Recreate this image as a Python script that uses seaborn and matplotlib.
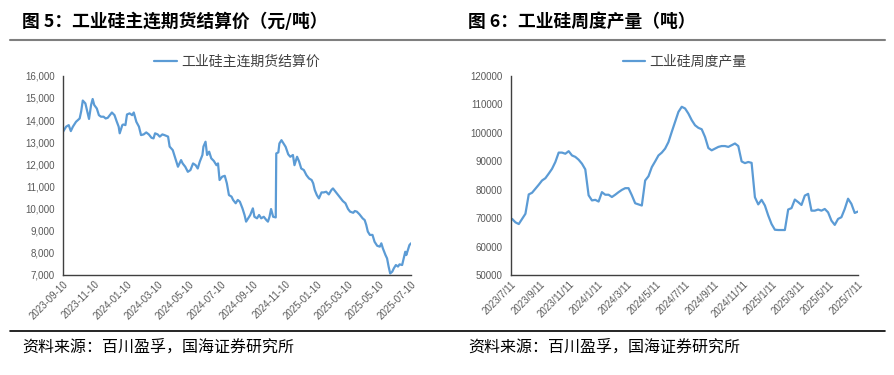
import pandas as pd
import matplotlib.pyplot as plt
import matplotlib.ticker as mticker
from matplotlib.lines import Line2D
import seaborn as sns

# 图5 工业硅主连期货结算价 (元/吨)
price_dates = [
    '2023-09-10', '2023-09-16', '2023-09-21', '2023-09-25', '2023-09-29', '2023-10-05',
    '2023-10-12', '2023-10-15', '2023-10-18', '2023-10-23', '2023-10-26', '2023-10-30',
    '2023-11-03', '2023-11-06', '2023-11-09', '2023-11-14', '2023-11-18', '2023-11-22',
    '2023-11-27', '2023-12-01', '2023-12-05', '2023-12-10', '2023-12-13', '2023-12-18',
    '2023-12-22', '2023-12-26', '2023-12-28', '2024-01-02', '2024-01-04', '2024-01-08',
    '2024-01-11', '2024-01-16', '2024-01-21', '2024-01-24', '2024-01-29', '2024-02-03',
    '2024-02-07', '2024-02-12', '2024-02-17', '2024-02-22', '2024-02-27', '2024-03-02',
    '2024-03-05', '2024-03-10', '2024-03-14', '2024-03-19', '2024-03-23', '2024-03-30',
    '2024-04-02', '2024-04-08', '2024-04-13', '2024-04-18', '2024-04-21', '2024-04-24',
    '2024-04-27', '2024-05-02', '2024-05-07', '2024-05-12', '2024-05-17', '2024-05-22',
    '2024-05-26', '2024-05-30', '2024-06-04', '2024-06-06', '2024-06-10', '2024-06-13',
    '2024-06-17', '2024-06-21', '2024-06-26', '2024-07-01', '2024-07-04', '2024-07-07',
    '2024-07-12', '2024-07-17', '2024-07-21', '2024-07-25', '2024-07-30', '2024-08-02',
    '2024-08-07', '2024-08-11', '2024-08-15', '2024-08-20', '2024-08-24', '2024-08-27',
    '2024-08-31', '2024-09-04', '2024-09-09', '2024-09-12', '2024-09-17', '2024-09-21',
    '2024-09-25', '2024-09-30', '2024-10-05', '2024-10-08', '2024-10-11', '2024-10-14',
    '2024-10-18', '2024-10-23', '2024-10-24', '2024-10-28', '2024-10-30', '2024-11-03',
    '2024-11-07', '2024-11-11', '2024-11-16', '2024-11-20', '2024-11-25', '2024-11-28',
    '2024-12-03', '2024-12-07', '2024-12-11', '2024-12-16', '2024-12-21', '2024-12-26',
    '2024-12-31', '2025-01-03', '2025-01-06', '2025-01-10', '2025-01-14', '2025-01-19',
    '2025-01-23', '2025-01-28', '2025-02-02', '2025-02-07', '2025-02-10', '2025-02-15',
    '2025-02-20', '2025-02-24', '2025-03-01', '2025-03-06', '2025-03-11', '2025-03-15',
    '2025-03-21', '2025-03-24', '2025-03-28', '2025-04-02', '2025-04-08', '2025-04-12',
    '2025-04-15', '2025-04-18', '2025-04-22', '2025-04-27', '2025-05-01', '2025-05-06',
    '2025-05-11', '2025-05-14', '2025-05-17', '2025-05-22', '2025-05-25', '2025-05-28',
    '2025-05-31', '2025-06-04', '2025-06-07', '2025-06-11', '2025-06-15', '2025-06-18',
    '2025-06-23', '2025-06-26', '2025-06-29', '2025-07-01', '2025-07-04', '2025-07-07',
    '2025-07-10',
]
price_values = [
    13470, 13700, 13770, 13500, 13700, 13920,
    14070, 14400, 14880, 14750, 14450, 14050,
    14680, 14950, 14680, 14520, 14220, 14150,
    14150, 14070, 14100, 14250, 14340, 14220,
    13950, 13700, 13400, 13770, 13800, 13770,
    14250, 14300, 14220, 14340, 13920, 13700,
    13320, 13350, 13440, 13350, 13200, 13170,
    13400, 13350, 13250, 13350, 13320, 13250,
    12800, 12640, 12270, 11890, 12040, 12190,
    12040, 11890, 11660, 11740, 12040, 11960,
    11810, 12120, 12420, 12800, 13020, 12420,
    12570, 12270, 12150, 11960, 12040, 11290,
    11440, 11480, 11140, 10610, 10540, 10390,
    10240, 10390, 10310, 10010, 9710, 9410,
    9560, 9710, 10010, 9630, 9560, 9710,
    9560, 9630, 9480, 9410, 9630, 9980,
    9630, 9600, 12490, 12540, 12940, 13090,
    12940, 12790, 12450, 12340, 12420, 11960,
    12340, 12120, 11810, 11740, 11510, 11360,
    11290, 11140, 10840, 10610, 10460, 10730,
    10730, 10760, 10640, 10840, 10910, 10760,
    10610, 10490, 10340, 10240, 9980, 9860,
    9810, 9890, 9860, 9740, 9560, 9480,
    9260, 8960, 8810, 8810, 8500, 8320,
    8280, 8430, 8200, 7900, 7750, 7380,
    7070, 7150, 7300, 7450, 7380, 7480,
    7450, 7750, 8050, 7900, 8130, 8350,
    8430,
]
price_ticks = ['2023-09-10', '2023-11-10', '2024-01-10', '2024-03-10', '2024-05-10', '2024-07-10',
               '2024-09-10', '2024-11-10', '2025-01-10', '2025-03-10', '2025-05-10', '2025-07-10']

# 图6 工业硅周度产量 (吨), weekly
output_start = '2023-07-14'
output_values = [
    69700, 68500, 67900, 69700, 71500, 78300, 78900, 80300, 81700, 83200,
    84000, 85600, 87300, 89700, 93000, 93000, 92600, 93500, 92000, 91500,
    90500, 89100, 87100, 78000, 76200, 76400, 75800, 79100, 78200, 78200,
    77400, 78200, 79100, 79900, 80500, 80500, 78000, 75200, 74800, 74400,
    83200, 84700, 87900, 89900, 92000, 93000, 94400, 96700, 100300, 103800,
    107300, 109100, 108500, 106700, 104400, 102600, 101700, 101200, 98500, 94600,
    93800, 94400, 95000, 95300, 95300, 95000, 95600, 96200, 95300, 89900,
    89300, 89700, 89400, 77300, 74800, 76400, 74400, 70900, 67900, 65900,
    65800, 65800, 65800, 73000, 73500, 76500, 75600, 74600, 77900, 78500,
    72600, 72600, 73000, 72600, 73200, 72000, 69100, 67600, 69700, 70300,
    73200, 76800, 75000, 71800, 72300,
]
output_ticks = ['2023-07-11', '2023-09-11', '2023-11-11', '2024-01-11', '2024-03-11', '2024-05-11',
                '2024-07-11', '2024-09-11', '2024-11-11', '2025-01-11', '2025-03-11', '2025-05-11',
                '2025-07-11']
output_tick_labels = ['2023/7/11', '2023/9/11', '2023/11/11', '2024/1/11', '2024/3/11', '2024/5/11',
                      '2024/7/11', '2024/9/11', '2024/11/11', '2025/1/11', '2025/3/11', '2025/5/11',
                      '2025/7/11']

sns.set_style("white")
plt.rcParams['font.family'] = ['Noto Sans CJK SC', 'DejaVu Sans']

blue = '#5B9BD5'
axis_col = '#404040'
tick_col = '#595959'

df_price = pd.DataFrame({'date': pd.to_datetime(price_dates), 'price': price_values})
df_output = pd.DataFrame({
    'date': pd.date_range(output_start, periods=len(output_values), freq='7D'),
    'output': output_values,
})

fig = plt.figure(figsize=(8.95, 3.75), dpi=100)
ax1 = fig.add_axes([0.0704, 0.2667, 0.3888, 0.5313])
ax2 = fig.add_axes([0.5706, 0.2667, 0.3881, 0.5313])

sns.lineplot(data=df_price, x='date', y='price', ax=ax1, color=blue, linewidth=1.6,
             label='工业硅主连期货结算价')
sns.lineplot(data=df_output, x='date', y='output', ax=ax2, color=blue, linewidth=1.6,
             label='工业硅周度产量')

ax1.set_ylim(7000, 16000)
ax1.yaxis.set_major_locator(mticker.MultipleLocator(1000))
ax1.yaxis.set_major_formatter(mticker.FuncFormatter(lambda v, p: f'{v:,.0f}'))
ax1.set_xlim(pd.Timestamp(price_ticks[0]), pd.Timestamp(price_ticks[-1]))
ax1.set_xticks(pd.to_datetime(price_ticks))
ax1.set_xticklabels(price_ticks)

ax2.set_ylim(50000, 120000)
ax2.yaxis.set_major_locator(mticker.MultipleLocator(10000))
ax2.yaxis.set_major_formatter(mticker.FuncFormatter(lambda v, p: f'{v:.0f}'))
ax2.set_xlim(pd.Timestamp(output_ticks[0]), pd.Timestamp(output_ticks[-1]))
ax2.set_xticks(pd.to_datetime(output_ticks))
ax2.set_xticklabels(output_tick_labels)

for ax in (ax1, ax2):
    ax.set_xlabel('')
    ax.set_ylabel('')
    for s in ('top', 'right'):
        ax.spines[s].set_visible(False)
    for s in ('left', 'bottom'):
        ax.spines[s].set_color(axis_col)
        ax.spines[s].set_linewidth(1.0)
    ax.tick_params(axis='x', direction='in', length=3, width=0.8, color=axis_col,
                   labelsize=7, labelcolor=tick_col, pad=3)
    ax.tick_params(axis='y', direction='out', length=3, width=0.8, color=axis_col,
                   labelsize=7, labelcolor=tick_col, pad=3)
    for lab in ax.get_xticklabels():
        lab.set_rotation(45)
        lab.set_ha('right')
        lab.set_rotation_mode('anchor')
        lab.set_family('Liberation Sans')
    for lab in ax.get_yticklabels():
        lab.set_family('Liberation Sans')
    leg = ax.legend(loc='lower center', bbox_to_anchor=(0.5, 1.0), frameon=False,
                    fontsize=10, handlelength=1.6, handletextpad=0.3, borderaxespad=0.1)
    for t in leg.get_texts():
        t.set_color(axis_col)

# titles, rules and source notes
fig.text(22 / 895, 1 - 22 / 375, '图 5：工业硅主连期货结算价（元/吨）', fontsize=12.8,
         fontweight='bold', va='center', ha='left', color='black')
fig.text(468 / 895, 1 - 22 / 375, '图 6：工业硅周度产量（吨）', fontsize=12.8,
         fontweight='bold', va='center', ha='left', color='black')
fig.add_artist(Line2D([10 / 895, 885 / 895], [1 - 40 / 375, 1 - 40 / 375],
                      color='#7f7f7f', linewidth=1.5))
fig.add_artist(Line2D([10 / 895, 885 / 895], [1 - 331 / 375, 1 - 331 / 375],
                      color='black', linewidth=1.2))
fig.text(22 / 895, 1 - 347 / 375, '资料来源：百川盈孚，国海证券研究所', fontsize=11.5,
         va='center', ha='left', color='black')
fig.text(468 / 895, 1 - 347 / 375, '资料来源：百川盈孚，国海证券研究所', fontsize=11.5,
         va='center', ha='left', color='black')

fig.savefig('out.png', dpi=100, facecolor='white')
